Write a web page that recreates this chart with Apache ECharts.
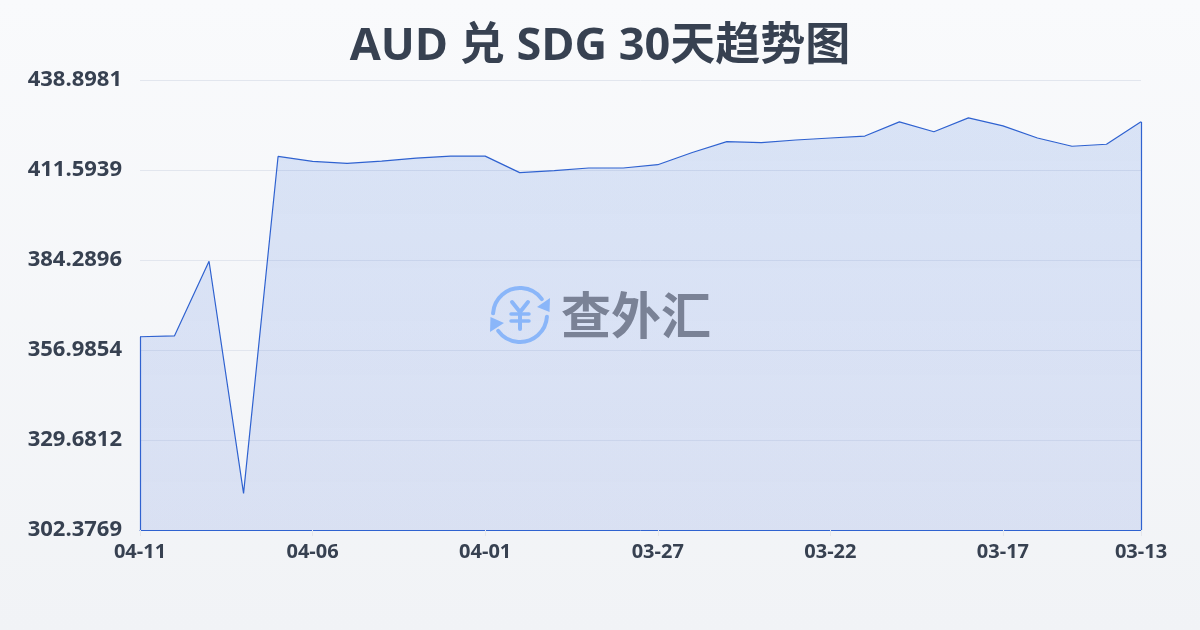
<!DOCTYPE html>
<html><head><meta charset="utf-8">
<style>html,body{margin:0;padding:0;width:1200px;height:630px;overflow:hidden;background:linear-gradient(180deg,#f9fafc 0%,#f1f3f6 100%)}#c{width:1200px;height:630px}</style>
<script src="https://cdn.jsdelivr.net/npm/echarts@6/dist/echarts.min.js"></script>
</head><body><div id="c"></div>
<script>
const titleText = 'AUD 兑 SDG 30天趋势图';
const dates = ['04-11','04-10','04-09','04-08','04-07','04-06','04-05','04-04','04-03','04-02','04-01','03-31','03-30','03-29','03-28','03-27','03-26','03-25','03-24','03-23','03-22','03-21','03-20','03-19','03-18','03-17','03-16','03-15','03-14','03-13'];
const rates = [361.0,361.3,383.9,313.5,415.7,414.2,413.6,414.3,415.2,415.8,415.8,410.8,411.4,412.2,412.2,413.2,416.9,420.2,419.9,420.7,421.3,421.9,426.2,423.2,427.4,425.0,421.3,418.8,419.4,426.2];
const yTicks = [302.3769,329.6812,356.9854,384.2896,411.5939,438.8981];
const yMin = yTicks[0], yMax = yTicks[yTicks.length-1];
const lastIdx = dates.length-1;
const showIdx = (i)=> (i%5===0 && i<lastIdx) || i===lastIdx;
const ff = '"Open Sans","Noto Sans CJK SC",sans-serif';
const dark = '#374151', blue = '#2f62d0';
const chart = echarts.init(document.getElementById('c'), null, {renderer:'canvas'});
chart.setOption({
  animation:false,
  backgroundColor:'transparent',
  title:{text:titleText,left:'center',top:20,textStyle:{fontFamily:ff,fontSize:45,fontWeight:'bold',color:dark}},
  grid:{left:140,right:59,top:80,bottom:100},
  xAxis:{type:'category',boundaryGap:false,data:dates,
    axisLine:{show:true,lineStyle:{color:blue,width:1}},
    axisTick:{show:true,length:6,interval:(i)=>showIdx(i),lineStyle:{color:'#e5e7eb'}},
    axisLabel:{interval:(i)=>showIdx(i),showMinLabel:true,showMaxLabel:true,margin:12,color:dark,fontFamily:ff,fontSize:20,fontWeight:'bold'},
    splitLine:{show:false}},
  yAxis:{type:'value',min:yMin,max:yMax,
    axisLine:{show:false},
    axisTick:{show:false,customValues:yTicks},
    axisLabel:{customValues:yTicks,margin:18,color:dark,fontFamily:ff,fontSize:22,fontWeight:'bold',
      formatter:(v)=>v.toFixed(4),padding:[0,0,5,0]},
    splitLine:{show:true,lineStyle:{color:'#e2e6ee',width:1}}},
  series:[{type:'line',data:rates,showSymbol:false,symbol:'none',smooth:false,
    lineStyle:{color:blue,width:1.2},
    areaStyle:{color:new echarts.graphic.LinearGradient(0,0,0,1,[{offset:0,color:'rgba(59,115,225,0.23)'},{offset:1,color:'rgba(59,100,215,0.19)'}])},
    markLine:{silent:true,symbol:'none',label:{show:false},lineStyle:{color:blue,width:1.2,type:'solid'},
      data:[[{coord:[0,yMin]},{coord:[0,rates[0]]}],[{coord:[lastIdx,yMin]},{coord:[lastIdx,rates[lastIdx]]}]]}
  }],
  graphic:[
    {type:'arc',z:50,shape:{cx:520,cy:315,r:27,startAngle:-Math.PI*0.98,endAngle:-Math.PI*0.2},style:{stroke:'#8ab6f9',lineWidth:4,fill:null,lineCap:'round'}},
    {type:'arc',z:50,shape:{cx:520,cy:315,r:27,startAngle:Math.PI*0.02,endAngle:Math.PI*0.8},style:{stroke:'#8ab6f9',lineWidth:4,fill:null,lineCap:'round'}},
    {type:'polygon',z:50,shape:{points:[[550,298],[549.5,312],[537,307]]},style:{fill:'#8ab6f9'}},
    {type:'polygon',z:50,shape:{points:[[490,332],[490.5,317],[504,323]]},style:{fill:'#8ab6f9'}},
    {type:'polyline',z:50,shape:{points:[[512,302],[520,312],[528,302]]},style:{stroke:'#8ab6f9',lineWidth:4,fill:null,lineCap:'round'}},
    {type:'polyline',z:50,shape:{points:[[520,312],[520,329]]},style:{stroke:'#8ab6f9',lineWidth:4,fill:null,lineCap:'round'}},
    {type:'polyline',z:50,shape:{points:[[511,314],[529,314]]},style:{stroke:'#8ab6f9',lineWidth:3.5,fill:null,lineCap:'round'}},
    {type:'polyline',z:50,shape:{points:[[511,321],[529,321]]},style:{stroke:'#8ab6f9',lineWidth:3.5,fill:null,lineCap:'round'}},
    {type:'text',z:50,style:{x:636,y:315,text:'查外汇',align:'center',verticalAlign:'middle',fontFamily:'"Noto Sans CJK SC"',fontSize:50,fontWeight:'bold',fill:'#7a8296'}}
  ]
});
</script></body></html>
